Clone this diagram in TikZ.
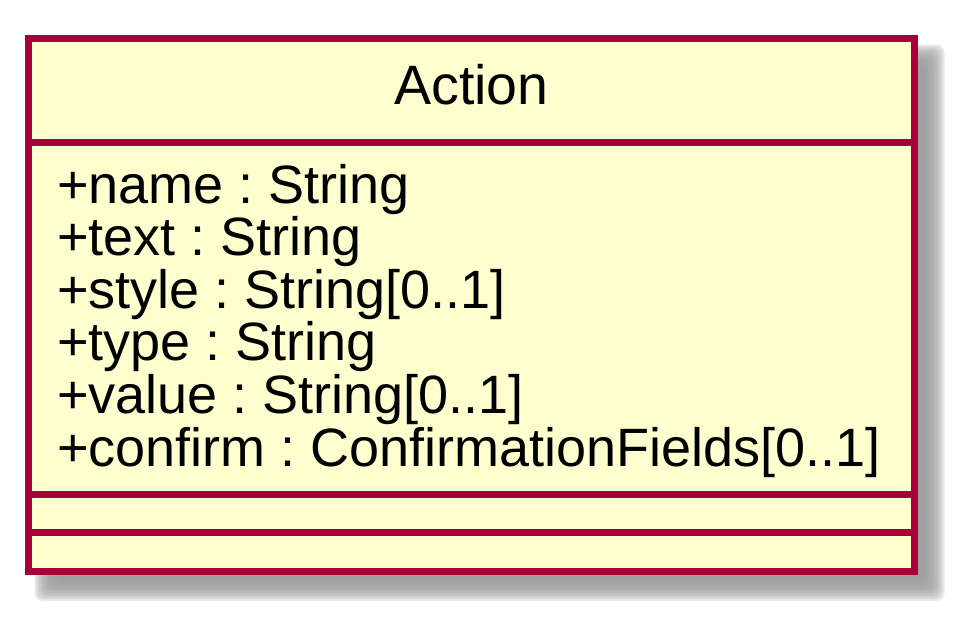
\documentclass[tikz,border=0pt]{standalone}
\usepackage{fontspec}
\setmainfont{Liberation Sans}
\frenchspacing
\definecolor{umlborder}{HTML}{A80036}
\definecolor{umlfill}{HTML}{FEFECE}
\definecolor{shadowgray}{RGB}{155,155,155}
\tikzset{
  attr/.style={anchor=base west, inner sep=0pt, font=\fontsize{54}{60}\selectfont\frenchspacing, text=black},
  title/.style={anchor=base, inner sep=0pt, font=\fontsize{55.5}{60}\selectfont, text=black},
  divider/.style={draw=umlborder, line width=7pt},
}
\begin{document}
\begin{tikzpicture}[x=1pt,y=-1pt]
\useasboundingbox (0,0) rectangle (966,623);
% shadow
\foreach \i in {-12,-10,...,10}{
  \fill[shadowgray, opacity=0.22, rounded corners=8pt] (46.5+\i,56.5+\i) rectangle (932.5-\i,589-\i);
}
% box
\fill[umlfill] (28.5,38.5) rectangle (914.5,571);
\node[draw=umlborder, line width=7pt, minimum width=886pt, minimum height=532.5pt, inner sep=0pt] (box) at (471.5,304.75) {};
\coordinate (d1l) at (28.5,142.5); \coordinate (d1r) at (914.5,142.5);
\coordinate (d2l) at (28.5,494.5); \coordinate (d2r) at (914.5,494.5);
\coordinate (d3l) at (28.5,532.5); \coordinate (d3r) at (914.5,532.5);
\draw[divider] (d1l) -- (d1r);
\draw[divider] (d2l) -- (d2r);
\draw[divider] (d3l) -- (d3r);
\node[title] (name) at (471.5,105) {Action};
\node[attr] (a1) at (57,203) {+name : String};
\node[attr] (a2) at (57,255.6) {+text : String};
\node[attr] (a3) at (57,308.2) {+style : String[0..1]};
\node[attr] (a4) at (57,360.8) {+type : String};
\node[attr] (a5) at (57,413.4) {+value : String[0..1]};
\node[attr] (a6) at (57,466) {+confirm : ConfirmationFields[0..1]};
\end{tikzpicture}
\end{document}
